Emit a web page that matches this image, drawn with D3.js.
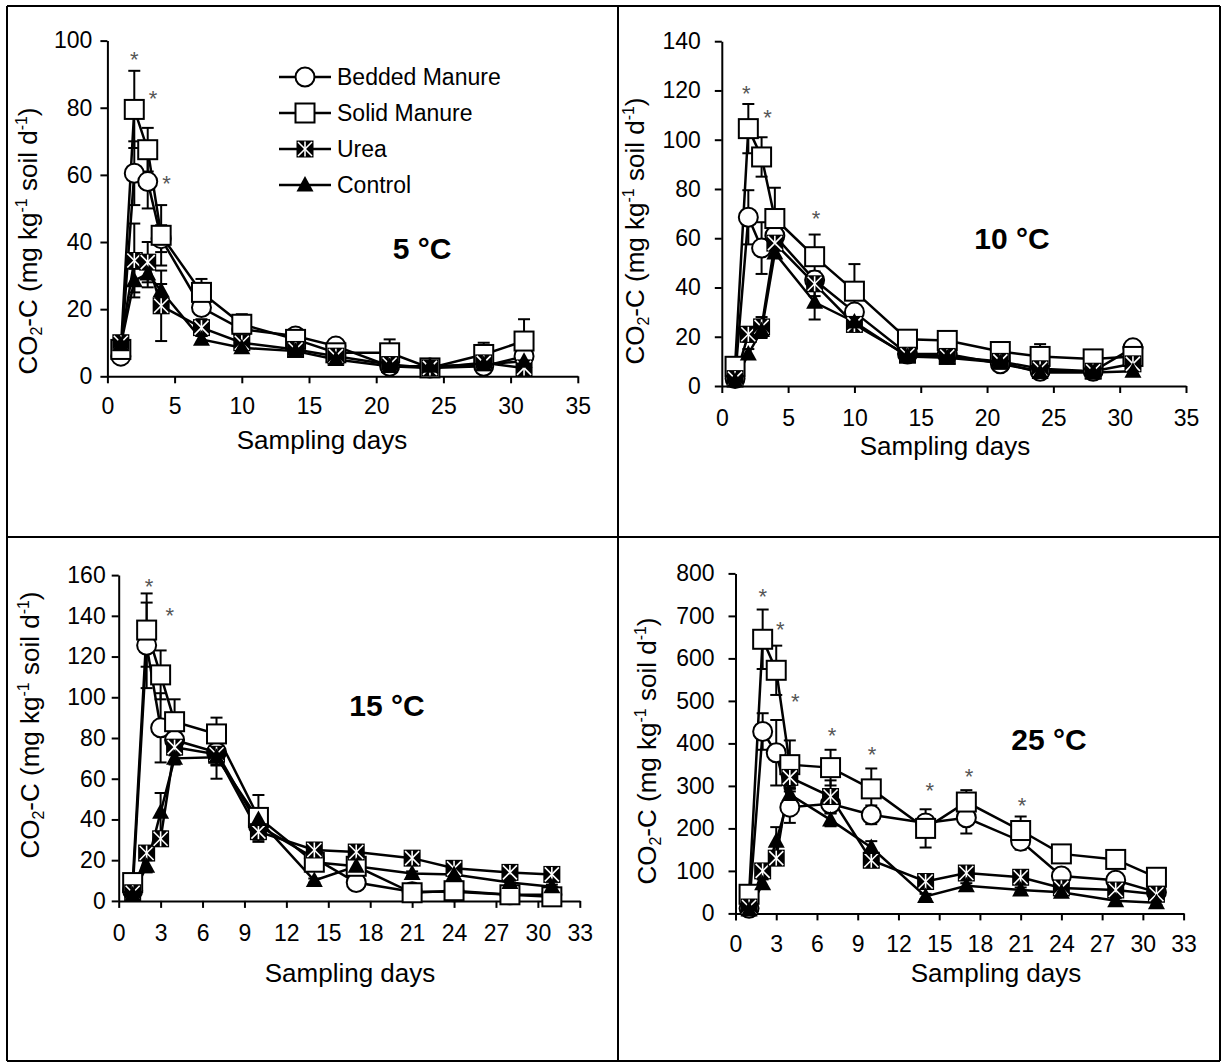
<!DOCTYPE html>
<html><head><meta charset="utf-8">
<script src="https://cdn.jsdelivr.net/npm/d3@7"></script>
<style>body{margin:0;background:#fff} text{font-family:Arial,"Liberation Sans",sans-serif}</style>
</head><body>
<svg id="c" width="1221" height="1062"></svg>
<script>
// ---------- DATA ----------
const days = [1, 2, 3, 4, 7, 10, 14, 17, 21, 24, 28, 31];
const seriesNames = ["Bedded Manure", "Solid Manure", "Urea", "Control"];
const tempLabels = ["5 °C", "10 °C", "15 °C", "25 °C"];

const xTicks35 = [0, 5, 10, 15, 20, 25, 30, 35];
const xTicks33 = [0, 3, 6, 9, 12, 15, 18, 21, 24, 27, 30, 33];
const yTicks5 = [0, 20, 40, 60, 80, 100];
const yTicks10 = [0, 20, 40, 60, 80, 100, 120, 140];
const yTicks15 = [0, 20, 40, 60, 80, 100, 120, 140, 160];
const yTicks25 = [0, 100, 200, 300, 400, 500, 600, 700, 800];

// 5 °C
const bm5   = [6, 60.5, 58, 41, 20.5, 14, 12, 9, 3, 2.5, 3, 6];
const sm5   = [8, 79.5, 67.5, 42, 25, 15.5, 11, 7, 7, 2.5, 6.5, 10.5];
const urea5 = [10, 34.5, 34, 21, 14.5, 10, 8, 6, 3.5, 2.5, 4, 2.5];
const ctrl5 = [9.5, 28.5, 30.5, 25.5, 11, 8.5, 7.5, 5, 3, 3, 3.5, 4.5];
const bm5Err   = [1, 9.5, 8, 4, 2, 1.5, 1, 1, 1, 0.5, 1, 1];
const sm5Err   = [1, 11.5, 6.5, 9, 4, 3, 1, 1, 4, 0.5, 3.5, 6.5];
const urea5Err = [1, 11, 6, 10.5, 2.5, 1.5, 1, 1, 1, 0.5, 1, 1];
const ctrl5Err = [1, 3.5, 4, 2, 1, 1, 0.5, 0.5, 0.5, 0.5, 0.5, 0.5];
const ast5 = [[2, 97], [3.4, 85.5], [4.4, 60]];

// 10 °C
const bm10   = [3, 68.5, 56, 61, 43, 30, 13, 13, 9, 6, 6, 15.5];
const sm10   = [8, 104.5, 93, 68, 52.5, 38.5, 19, 18.5, 14, 12, 11, 12];
const urea10 = [3, 21, 24, 58, 41.5, 25, 12.5, 12, 10, 7, 6, 9];
const ctrl10 = [2, 13, 22.5, 54, 34, 26, 12, 11.5, 9.5, 5.5, 5.5, 6];
const bm10Err   = [1, 11, 10.5, 2, 3, 2, 1, 1, 1, 1, 1, 1];
const sm10Err   = [1, 10, 8, 12.5, 9, 11, 2, 1.5, 2, 5, 1, 1];
const urea10Err = [0.5, 3, 4, 3, 5, 2, 1, 1, 1, 1, 1, 1];
const ctrl10Err = [0.5, 2, 3, 2, 7, 2, 1, 1, 1, 1, 1, 1];
const ast10 = [[1.85, 122.5], [3.45, 112.5], [7.1, 71.5]];

// 15 °C
const bm15   = [5, 125.5, 85, 79, 73, 37, 21, 9, 4.5, 4.5, 3, 3];
const sm15   = [9, 133, 111, 88, 82, 41, 19, 17, 4, 5, 3, 2];
const urea15 = [4, 23.5, 30.5, 75.5, 72, 34, 25, 24, 21, 16, 14, 13];
const ctrl15 = [3, 17, 43.5, 70, 70.5, 40, 10, 17, 13.5, 13, 9, 7];
const bm15Err   = [1, 21, 17, 4, 13, 8, 2, 2, 1, 1, 1, 1];
const sm15Err   = [2, 18, 12, 11, 8, 11, 2, 2, 1, 1, 1, 1];
const urea15Err = [1, 3, 3, 4, 5, 3, 2, 2, 2, 1, 1, 1];
const ctrl15Err = [1, 3, 9.5, 3, 4, 4, 1, 2, 1, 1, 1, 1];
const ast15 = [[2.17, 158.8], [3.65, 144.7]];

// 25 °C
const bm25   = [12, 428, 378, 250, 258, 232, 213, 225, 170, 88, 78, 50];
const sm25   = [45, 645, 572, 350, 343, 293, 200, 262, 195, 140, 127, 85];
const urea25 = [15, 100, 130, 320, 275, 125, 75, 95, 85, 60, 55, 45];
const ctrl25 = [8, 70, 170, 280, 220, 155, 40, 65, 55, 50, 30, 25];
const bm25Err   = [3, 43, 77, 37, 15, 22, 15, 37, 20, 15, 8, 8];
const sm25Err   = [5, 70, 58, 57, 42, 48, 45, 28, 33, 10, 8, 8];
const urea25Err = [3, 10, 15, 20, 38, 15, 8, 8, 8, 8, 8, 8];
const ctrl25Err = [2, 10, 33, 15, 15, 15, 6, 6, 6, 6, 6, 6];
const ast25 = [[2.0, 768], [3.3, 690], [4.4, 520], [7.1, 440], [10.05, 395], [14.3, 311], [17.2, 343], [21.1, 275]];

// ---------- LAYOUT ----------
const panels = [
  {vals: [bm5, sm5, urea5, ctrl5], errs: [bm5Err, sm5Err, urea5Err, ctrl5Err], ast: ast5,
   xMax: 35, xTicks: xTicks35, yMax: 100, yTicks: yTicks5, temp: tempLabels[0],
   x0: 107.4, x1: 577.8, yTop: 40.6, yBot: 376.3, yPad: 8, xPad: 14,
   ttlX: 37, ttlY: 241, xtX: 322, xtY: 439.5, tmpX: 422, tmpY: 248.5, legend: true},
  {vals: [bm10, sm10, urea10, ctrl10], errs: [bm10Err, sm10Err, urea10Err, ctrl10Err], ast: ast10,
   xMax: 35, xTicks: xTicks35, yMax: 140, yTicks: yTicks10, temp: tempLabels[1],
   x0: 721.8, x1: 1186, yTop: 41.2, yBot: 386, yPad: 14, xPad: 17,
   ttlX: 644, ttlY: 231, xtX: 945, xtY: 446, tmpX: 1012, tmpY: 238, legend: false},
  {vals: [bm15, sm15, urea15, ctrl15], errs: [bm15Err, sm15Err, urea15Err, ctrl15Err], ast: ast15,
   xMax: 33, xTicks: xTicks33, yMax: 160, yTicks: yTicks15, temp: tempLabels[2],
   x0: 118.7, x1: 579.8, yTop: 575.1, yBot: 900.9, yPad: 6, xPad: 17,
   ttlX: 39, ttlY: 725, xtX: 350, xtY: 972.8, tmpX: 387, tmpY: 704.8, legend: false},
  {vals: [bm25, sm25, urea25, ctrl25], errs: [bm25Err, sm25Err, urea25Err, ctrl25Err], ast: ast25,
   xMax: 33, xTicks: xTicks33, yMax: 800, yTicks: yTicks25, temp: tempLabels[3],
   x0: 735.5, x1: 1183.6, yTop: 573.4, yBot: 913.4, yPad: 14, xPad: 15,
   ttlX: 656, ttlY: 751, xtX: 996, xtY: 972.8, tmpX: 1049, tmpY: 738.7, legend: false}
];

const svg = d3.select("#c");
const FONT_TICK = 23, FONT_TITLE = 26, FONT_SUB = 16;

// frame lines (table borders)
const frame = svg.append("g").attr("stroke", "#000").attr("stroke-width", 2);
[[7, 6, 1220, 6], [7, 1061, 1220, 1061], [7, 6, 7, 1061], [1220, 6, 1220, 1061],
 [618, 6, 618, 1061], [7, 537, 1220, 537]].forEach(l =>
  frame.append("line").attr("x1", l[0]).attr("y1", l[1]).attr("x2", l[2]).attr("y2", l[3]));

function drawMarker(g, type, cx, cy) {
  if (type === 0) {
    g.append("circle").attr("cx", cx).attr("cy", cy).attr("r", 9.5)
      .attr("fill", "#fff").attr("stroke", "#000").attr("stroke-width", 2);
  } else if (type === 1) {
    g.append("rect").attr("x", cx - 9.5).attr("y", cy - 9.5).attr("width", 19).attr("height", 19)
      .attr("fill", "#fff").attr("stroke", "#000").attr("stroke-width", 2);
  } else if (type === 2) {
    const h = 8.5;
    g.append("rect").attr("x", cx - h).attr("y", cy - h).attr("width", 2 * h).attr("height", 2 * h)
      .attr("fill", "#000");
    const w = g.append("g").attr("stroke", "#fff").attr("stroke-width", 1.6);
    w.append("line").attr("x1", cx - h + 1.5).attr("y1", cy - h + 1.5).attr("x2", cx + h - 1.5).attr("y2", cy + h - 1.5);
    w.append("line").attr("x1", cx - h + 1.5).attr("y1", cy + h - 1.5).attr("x2", cx + h - 1.5).attr("y2", cy - h + 1.5);
    w.append("line").attr("x1", cx).attr("y1", cy - h + 1).attr("x2", cx).attr("y2", cy + h - 1);
  } else {
    g.append("path").attr("d", `M${cx},${cy - 9}L${cx + 8.5},${cy + 6.5}L${cx - 8.5},${cy + 6.5}Z`)
      .attr("fill", "#000");
  }
}

function yTitle(g, x, y) {
  const t = g.append("text").attr("transform", `translate(${x},${y}) rotate(-90)`)
    .attr("text-anchor", "middle").attr("font-size", FONT_TITLE).attr("fill", "#000");
  t.append("tspan").text("CO");
  t.append("tspan").attr("font-size", FONT_SUB).attr("dy", 5).text("2");
  t.append("tspan").attr("dy", -5).text("-C (mg kg");
  t.append("tspan").attr("font-size", FONT_SUB).attr("dy", -10).text("-1");
  t.append("tspan").attr("dy", 10).text(" soil d");
  t.append("tspan").attr("font-size", FONT_SUB).attr("dy", -10).text("-1");
  t.append("tspan").attr("dy", 10).text(")");
}

panels.forEach(p => {
  const x = d3.scaleLinear().domain([0, p.xMax]).range([p.x0, p.x1]);
  const y = d3.scaleLinear().domain([0, p.yMax]).range([p.yBot, p.yTop]);
  const g = svg.append("g");

  // axes
  const ya = g.append("g").attr("transform", `translate(${p.x0},0)`)
    .call(d3.axisLeft(y).tickValues(p.yTicks).tickSize(7).tickSizeOuter(0).tickPadding(p.yPad));
  const xa = g.append("g").attr("transform", `translate(0,${p.yBot})`)
    .call(d3.axisBottom(x).tickValues(p.xTicks).tickSize(7).tickSizeOuter(0).tickPadding(p.xPad));
  [ya, xa].forEach(a => {
    a.selectAll("path,line").attr("stroke", "#000").attr("stroke-width", 2);
    a.selectAll("text").attr("font-size", FONT_TICK).attr("fill", "#000")
      .style("font-family", "Arial, 'Liberation Sans', sans-serif");
  });

  yTitle(g, p.ttlX, p.ttlY);
  g.append("text").attr("x", p.xtX).attr("y", p.xtY).attr("dy", "0.35em").attr("text-anchor", "middle")
    .attr("font-size", FONT_TITLE).text("Sampling days");
  g.append("text").attr("x", p.tmpX).attr("y", p.tmpY).attr("dy", "0.36em").attr("text-anchor", "middle")
    .attr("font-size", 30).attr("font-weight", "bold").text(p.temp);

  // lines
  const line = d3.line().x((d, i) => x(days[i])).y(d => y(d));
  p.vals.forEach(v => g.append("path").datum(v).attr("d", line)
    .attr("fill", "none").attr("stroke", "#000").attr("stroke-width", 2.5));

  // error bars (±)
  const eb = g.append("g").attr("stroke", "#000").attr("stroke-width", 2);
  p.vals.forEach((v, s) => v.forEach((val, i) => {
    const e = p.errs[s][i];
    const cx = x(days[i]), yt = y(val + e), yb = y(Math.max(0, val - e));
    eb.append("line").attr("x1", cx).attr("x2", cx).attr("y1", yt).attr("y2", yb);
    eb.append("line").attr("x1", cx - 6).attr("x2", cx + 6).attr("y1", yt).attr("y2", yt);
    eb.append("line").attr("x1", cx - 6).attr("x2", cx + 6).attr("y1", yb).attr("y2", yb);
  }));

  // markers
  p.vals.forEach((v, s) => {
    const mg = g.append("g");
    v.forEach((val, i) => drawMarker(mg, s, x(days[i]), y(val)));
  });

  // significance asterisks
  g.selectAll("text.ast").data(p.ast).join("text").attr("class", "ast")
    .attr("x", d => x(d[0])).attr("y", d => y(d[1])).attr("dy", "0.75em")
    .attr("text-anchor", "middle").attr("font-size", 22).attr("fill", "#555").text("*");

  // legend
  if (p.legend) {
    const lg = g.append("g");
    seriesNames.forEach((n, i) => {
      const ly = 77 + i * 36;
      lg.append("line").attr("x1", 279).attr("x2", 331).attr("y1", ly).attr("y2", ly)
        .attr("stroke", "#000").attr("stroke-width", 2.5);
      drawMarker(lg, i, 305, ly);
      lg.append("text").attr("x", 337).attr("y", ly).attr("dy", "0.36em")
        .attr("font-size", FONT_TICK).text(n);
    });
  }
});
</script>
</body></html>
